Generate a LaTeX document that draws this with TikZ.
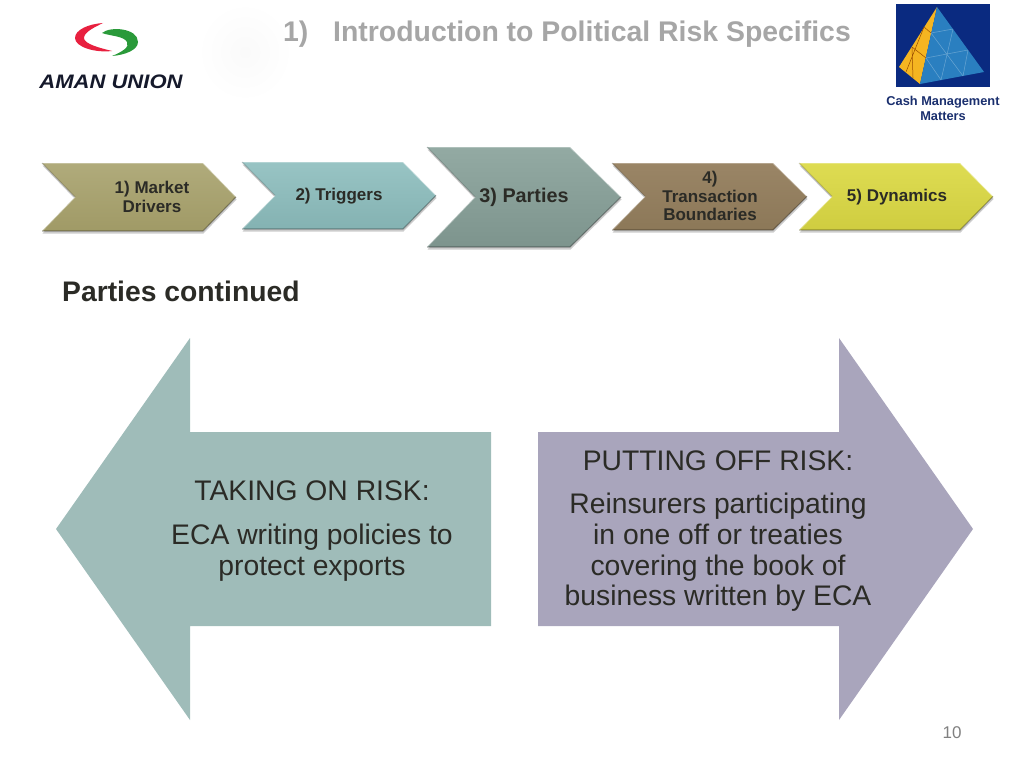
\documentclass[tikz,border=0pt]{standalone}
\usepackage{fontspec}
\setmainfont{Liberation Sans}
\usetikzlibrary{shadows}
\definecolor{titlegray}{HTML}{A6A6A6}
\definecolor{bodyink}{HTML}{2B2B26}
\definecolor{navyink}{HTML}{1A2F6E}
\definecolor{takefill}{HTML}{9FBCB9}
\definecolor{putfill}{HTML}{A9A5BC}
\definecolor{markettop}{HTML}{B0AB7B}
\definecolor{marketlow}{HTML}{A09A66}
\definecolor{triggertop}{HTML}{98C4C4}
\definecolor{triggerlow}{HTML}{84B2B2}
\definecolor{partytop}{HTML}{93AAA3}
\definecolor{partylow}{HTML}{7D948D}
\definecolor{boundtop}{HTML}{9A8566}
\definecolor{boundlow}{HTML}{8C7858}
\definecolor{dyntop}{HTML}{DEDC52}
\definecolor{dynlow}{HTML}{CFCD40}
\definecolor{swooshred}{HTML}{E8203F}
\definecolor{swooshgreen}{HTML}{2A9A3A}
\definecolor{logoink}{HTML}{15192B}
\definecolor{cubeback}{HTML}{0A2A80}
\definecolor{cubegold}{HTML}{F5B521}
\definecolor{cubeblue}{HTML}{2A7FC0}
% one chevron: colour prefix, x-left, x-notch, x-shoulder, x-tip, y-top, y-bottom
\newcommand{\stepshape}[7]{%
  \path[chevron, top color=#1top, bottom color=#1low]
    (#2,#6) -- (#4,#6) -- (#5,{(#6+#7)/2}) -- (#4,#7) -- (#2,#7) -- (#3,{(#6+#7)/2}) -- cycle;
  \draw[bevellight] (#2,#6) -- (#4,#6) -- (#5,{(#6+#7)/2});
  \draw[beveldark] (#5,{(#6+#7)/2}) -- (#4,#7) -- (#2,#7);
  \draw[bevellight] (#2,#7) -- (#3,{(#6+#7)/2});
  \draw[beveldark, draw opacity=0.15] (#3,{(#6+#7)/2}) -- (#2,#6);
}
\begin{document}
\begin{tikzpicture}[
  x=1pt, y=-1pt,
  every node/.style={inner sep=0pt, align=center},
  chevron/.style={drop shadow={shadow xshift=0.5pt, shadow yshift=-2.5pt, opacity=0.2, fill=black}},
  bevellight/.style={draw=white, draw opacity=0.4, line width=1.2pt, line join=round},
  beveldark/.style={draw=black, draw opacity=0.3, line width=1.2pt, line join=round},
  steplabel/.style={font=\bfseries\fontsize{17}{18.3}\selectfont, text=bodyink},
  biglabel/.style={font=\fontsize{28.3}{30.7}\selectfont, text=bodyink},
  titlelabel/.style={font=\bfseries\fontsize{28.4}{30}\selectfont, text=titlegray, anchor=base west}
]
\useasboundingbox (0,0) rectangle (1024,768);

% header
\shade[inner color=black!2, outer color=white, draw=none] (245,52) ellipse (48 and 50);
\node[titlelabel] (titlenum) at (283,41.5) {1)};
\node[titlelabel] (title) at (333,41.5) {Introduction to Political Risk Specifics};

% left logo
\fill[swooshred] (103,23) .. controls (88,24) and (75,30) .. (75,38) .. controls (75,47) and (95,53) .. (112,51)
  .. controls (100,48) and (84,44) .. (84,38) .. controls (84,32) and (95,27) .. (103,23) -- cycle;
\fill[swooshgreen] (102,33) .. controls (110,26) and (138,28) .. (138,42) .. controls (138,50) and (125,55) .. (112,56)
  .. controls (122,52) and (130,47) .. (127,42) .. controls (124,36) and (110,36) .. (102,33) -- cycle;
\node[font=\bfseries\itshape\fontsize{19.5}{20}\selectfont, text=logoink, anchor=base, xscale=1.13, transform shape] (logotext) at (111,88) {AMAN UNION};

% right logo
\fill[cubeback] (896,4) rectangle (990,87);
\fill[cubegold] (937,7) -- (899,67) -- (920,84) -- cycle;
\fill[cubeblue] (937,7) -- (984,72) -- (920,84) -- cycle;
\draw[white, draw opacity=0.3, line width=0.5pt]
  (931,33) -- (953,29) (926,58) -- (968,50)
  (931,33) -- (963,76) (926,58) -- (941,80)
  (953,29) -- (941,80) (968,50) -- (963,76);
\draw[orange!60!black, line width=0.5pt]
  (931,33) -- (924,27) (926,58) -- (912,47)
  (924,27) -- (906,72) (912,47) -- (913,78);
\node[font=\bfseries\fontsize{12.8}{15}\selectfont, text=navyink] (cashlabel) at (943,108) {Cash Management\\Matters};

% process bar
\stepshape{market}{42}{75}{203}{236}{163}{231}
\stepshape{trigger}{242}{275}{403}{436}{162}{229}
\stepshape{party}{427}{475}{570}{621}{147}{247}
\stepshape{bound}{612}{645}{773}{807}{163}{230}
\stepshape{dyn}{799}{832}{960}{993}{163}{230}
\node[steplabel] (market) at (152,197) {1) Market\\Drivers};
\node[steplabel] (trigger) at (339,196) {2) Triggers};
\node[steplabel, font=\bfseries\fontsize{19.8}{20}\selectfont] (party) at (524,197) {3) Parties};
\node[steplabel] (bound) at (710,196) {4)\\Transaction\\Boundaries};
\node[steplabel] (dyn) at (897,197) {5) Dynamics};

\node[font=\bfseries\fontsize{28.3}{30}\selectfont, text=bodyink, anchor=base west] (heading) at (62,301) {Parties continued};

% big arrows
\fill[takefill] (190,338) -- (56,529) -- (190,720) -- (190,626) -- (491,626) -- (491,432) -- (190,432) -- cycle;
\fill[putfill] (839,338) -- (973,529) -- (839,720) -- (839,626) -- (538,626) -- (538,432) -- (839,432) -- cycle;

\node[biglabel] (take) at (312,491) {TAKING ON RISK:};
\node[biglabel] (takebody) at (312,552.5) {ECA writing policies to\\protect exports};
\node[biglabel] (put) at (718,461) {PUTTING OFF RISK:};
\node[biglabel] (putbody) at (718,552.5) {Reinsurers participating\\in one off or treaties\\covering the book of\\business written by ECA};

\node[font=\fontsize{17}{18}\selectfont, text=gray] (pagenum) at (952,733) {10};
\end{tikzpicture}
\end{document}
